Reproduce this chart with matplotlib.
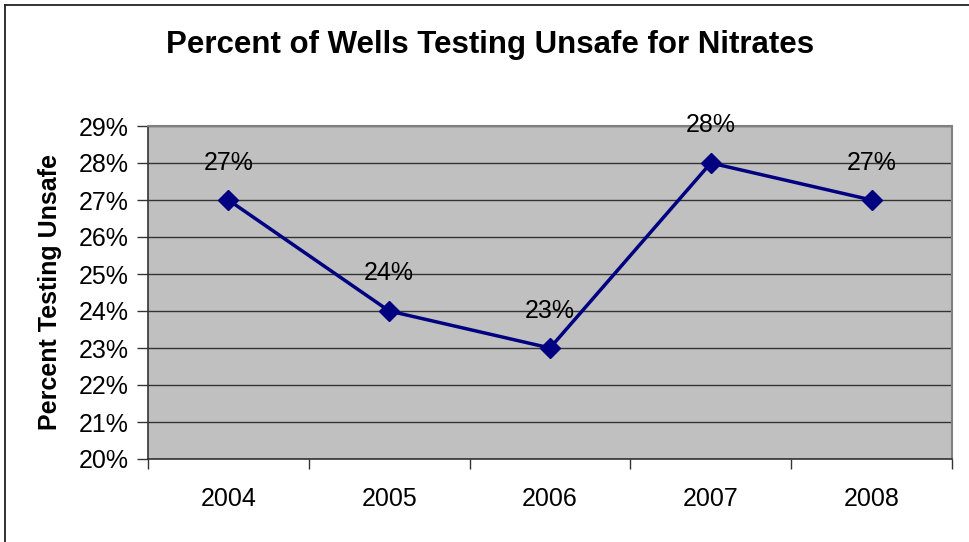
import matplotlib
matplotlib.use("Agg")
import matplotlib.pyplot as plt
from matplotlib.lines import Line2D
from matplotlib.ticker import FixedLocator, NullFormatter

years = ["2004", "2005", "2006", "2007", "2008"]
values = [27, 24, 23, 28, 27]
yticks = [20, 21, 22, 23, 24, 25, 26, 27, 28, 29]

plt.rcParams['font.family'] = ['Liberation Sans', 'DejaVu Sans']

W, H = 969, 542
fig = plt.figure(figsize=(W / 100, H / 100), dpi=100)
fig.patch.set_facecolor("white")

# outer frame (left and top edges only visible)
fx, fy = 4.5 / W, 1 - 4.5 / H
fig.add_artist(Line2D([fx, fx], [0, fy], transform=fig.transFigure,
                      color="#222222", linewidth=1.3))
fig.add_artist(Line2D([fx, 1], [fy, fy], transform=fig.transFigure,
                      color="#222222", linewidth=1.3))

left, right, top, bottom = 148, 952, 126, 459
ax = fig.add_axes([left / W, 1 - bottom / H, (right - left) / W, (bottom - top) / H])
ax.set_facecolor("#c0c0c0")

x = list(range(len(years)))
ax.plot(x, values, color="#000080", linewidth=2.5, marker="D", markersize=10,
        markerfacecolor="#000080", markeredgecolor="#000080", zorder=3)
for xi, v in zip(x, values):
    ax.annotate(f"{v}%", (xi, v), xytext=(0, 27), textcoords="offset points",
                ha="center", va="center", fontsize=18, color="black", zorder=4)

ax.set_xlim(-0.5, len(years) - 0.5)
ax.set_ylim(20, 29)
ax.set_yticks(yticks)
ax.set_yticklabels([f"{t}%" for t in yticks])
ax.yaxis.grid(True, color="#333333", linewidth=1)
ax.set_axisbelow(True)

ax.set_xticks(x)
ax.set_xticklabels(years)
ax.tick_params(axis="x", which="major", length=0, pad=20, labelsize=18)
ax.xaxis.set_minor_locator(FixedLocator([i - 0.5 for i in range(len(years) + 1)]))
ax.xaxis.set_minor_formatter(NullFormatter())
ax.tick_params(axis="x", which="minor", length=7, width=1, color="#333333", direction="out")
ax.tick_params(axis="y", length=8, width=1, color="#333333", pad=6, labelsize=18)

for s in ["top", "right"]:
    ax.spines[s].set_color("#808080")
    ax.spines[s].set_linewidth(1.5)
for s in ["left", "bottom"]:
    ax.spines[s].set_color("#333333")
    ax.spines[s].set_linewidth(1.2)

ax.set_ylabel("Percent Testing Unsafe", fontsize=18, fontweight="bold", labelpad=12)
fig.text(490 / W, 1 - 45 / H, "Percent of Wells Testing Unsafe for Nitrates",
         ha="center", va="center", fontsize=22.5, fontweight="bold")

fig.savefig("out.png", dpi=100)
